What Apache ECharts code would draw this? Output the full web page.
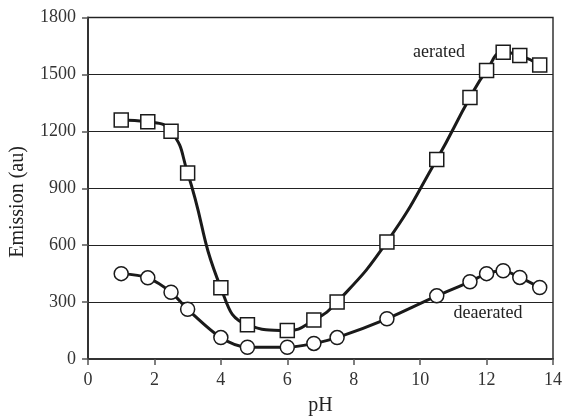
<!DOCTYPE html>
<html><head><meta charset="utf-8">
<script src="https://cdn.jsdelivr.net/npm/echarts@6/dist/echarts.min.js"></script>
<style>html,body{margin:0;padding:0;background:#fff}#c{width:564px;height:416px}</style>
</head><body><div id="c"></div>
<script>
const phValues = [1.0, 1.8, 2.5, 3.0, 4.0, 4.8, 6.0, 6.8, 7.5, 9.0, 10.5, 11.5, 12.0, 12.5, 13.0, 13.6];
const aerated = [1260, 1250, 1200, 980, 375, 180, 150, 205, 300, 617, 1052, 1378, 1520, 1617, 1600, 1550];
const deaerated = [450, 428, 352, 262, 113, 62, 62, 82, 113, 212, 333, 407, 450, 465, 430, 377];
const xTicks = [0, 2, 4, 6, 8, 10, 12, 14];
const yTicks = [0, 300, 600, 900, 1200, 1500, 1800];

const font = 'Liberation Serif';
const chart = echarts.init(document.getElementById('c'), null, {renderer: 'canvas'});
const pair = (ys) => phValues.map((x, i) => [x, ys[i]]);
chart.setOption({
  animation: false,
  backgroundColor: '#fff',
  grid: {left: 88, right: 11, top: 17.5, bottom: 57, show: true, borderColor: '#333', borderWidth: 1.5, backgroundColor: 'transparent', containLabel: false, outerBoundsMode: 'none'},
  xAxis: {
    type: 'value', min: xTicks[0], max: xTicks[xTicks.length - 1], interval: 2,
    name: 'pH', nameLocation: 'middle', nameGap: 37,
    nameTextStyle: {fontFamily: font, fontSize: 20, color: '#222'},
    axisLine: {show: true, lineStyle: {color: '#333', width: 2}},
    axisTick: {show: true, inside: false, length: 6, lineStyle: {color: '#555', width: 1.5}},
    axisLabel: {fontFamily: font, fontSize: 18, color: '#333', margin: 12, formatter: (v) => String(v)},
    splitLine: {show: false}
  },
  yAxis: {
    type: 'value', min: yTicks[0], max: yTicks[yTicks.length - 1], interval: 300,
    axisLine: {show: true, lineStyle: {color: '#333', width: 2}},
    axisTick: {show: true, inside: false, length: 6, lineStyle: {color: '#555', width: 1.5}},
    axisLabel: {fontFamily: font, fontSize: 18, color: '#333', margin: 12, formatter: (v) => String(v)},
    splitLine: {show: true, lineStyle: {color: '#222', width: 1}}
  },
  graphic: [
    {type: 'text', x: 18, y: 202, rotation: Math.PI / 2, style: {text: 'Emission (au)', font: '20px "Liberation Serif"', fill: '#222', textAlign: 'center', textVerticalAlign: 'middle'}},
    {type: 'text', x: 439, y: 52, style: {text: 'aerated', font: '18px "Liberation Serif"', fill: '#222', textAlign: 'center', textVerticalAlign: 'middle'}},
    {type: 'text', x: 488, y: 313, style: {text: 'deaerated', font: '18px "Liberation Serif"', fill: '#222', textAlign: 'center', textVerticalAlign: 'middle'}}
  ],
  series: [
    {
      name: 'aerated', type: 'line', data: pair(aerated), smooth: 0.5,
      symbol: 'rect', symbolSize: 14,
      lineStyle: {color: '#1a1a1a', width: 3},
      itemStyle: {color: '#fff', borderColor: '#1a1a1a', borderWidth: 1.5}
    },
    {
      name: 'deaerated', type: 'line', data: pair(deaerated), smooth: 0.3,
      symbol: 'circle', symbolSize: 14,
      lineStyle: {color: '#1a1a1a', width: 3},
      itemStyle: {color: '#fff', borderColor: '#1a1a1a', borderWidth: 1.5}
    }
  ]
});
</script></body></html>
